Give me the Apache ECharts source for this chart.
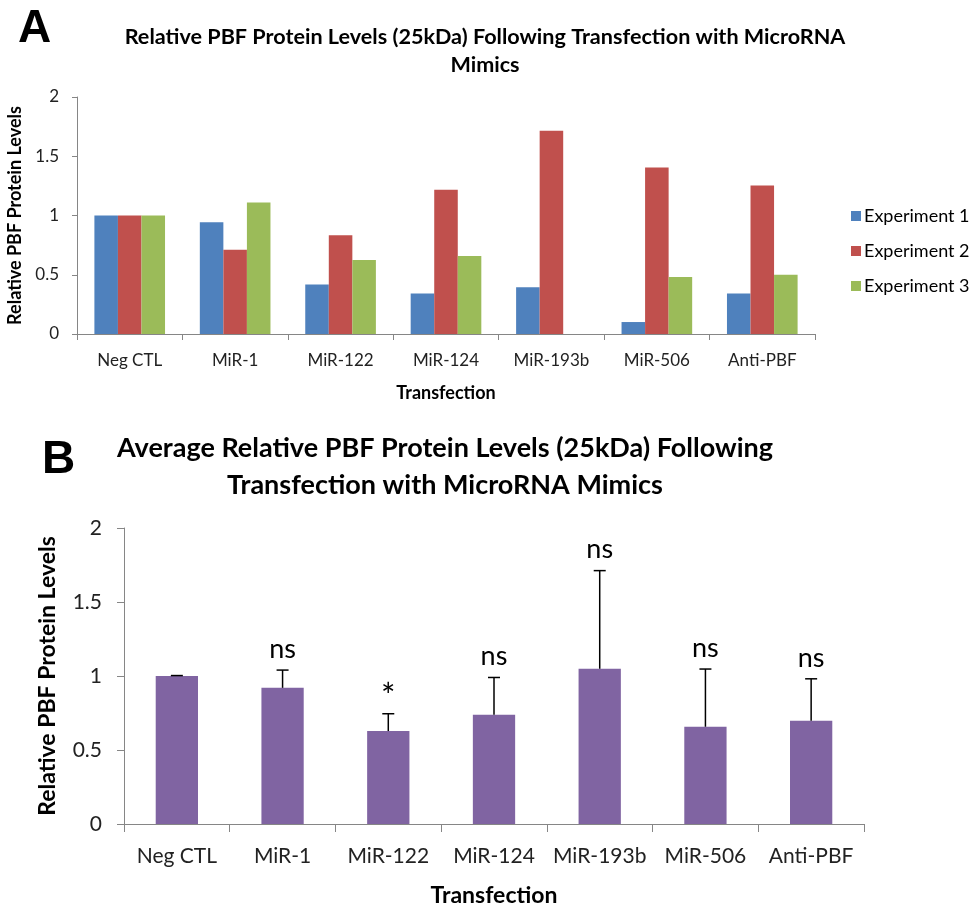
<!DOCTYPE html>
<html>
<head>
<meta charset="utf-8">
<script src="https://cdn.jsdelivr.net/npm/echarts@6/dist/echarts.min.js"></script>
<style>
  html, body { margin: 0; padding: 0; background: #fff; }
  #chart { width: 970px; height: 903px; }
</style>
</head>
<body>
<div id="chart"></div>
<script>
// categories shared by both panels
const categories = ['Neg CTL', 'MiR-1', 'MiR-122', 'MiR-124', 'MiR-193b', 'MiR-506', 'Anti-PBF'];

// panel A: individual experiments
const experimentNames = ['Experiment 1', 'Experiment 2', 'Experiment 3'];
const experiment1 = [1, 0.944, 0.417, 0.341, 0.394, 0.101, 0.341];
const experiment2 = [1, 0.712, 0.834, 1.217, 1.715, 1.405, 1.253];
const experiment3 = [1, 1.109, 0.625, 0.659, null, 0.482, 0.499];

// panel B: averages with upper error bars and significance marks
const averageLevels = [1.0, 0.92, 0.628, 0.738, 1.049, 0.657, 0.697];
const errorUpper = [0.003, 0.12, 0.117, 0.252, 0.663, 0.39, 0.284];
const sigLabels = ['', 'ns', '*', 'ns', 'ns', 'ns', 'ns'];

const yTicks = [0, 0.5, 1, 1.5, 2];

const FONT = 'Lato';
const axisGray = '#868686';
const colorsA = ['#4F81BD', '#C0504D', '#9BBB59'];
const purple = '#8064A2';

const chart = echarts.init(document.getElementById('chart'));

const errData = averageLevels.map((v, i) => [i, v, v + errorUpper[i], sigLabels[i]]);

const option = {
  animation: false,
  textStyle: { fontFamily: FONT },
  title: [
    {
      text: 'A', left: 13, top: 1,
      textStyle: { fontFamily: 'Liberation Sans', fontSize: 46, fontWeight: 'bold', color: '#000' }
    },
    {
      text: 'Relative PBF Protein Levels (25kDa) Following Transfection with MicroRNA\nMimics',
      left: 480, top: 18, textAlign: 'center',
      textStyle: { fontFamily: FONT, fontSize: 21.6, fontWeight: 'bold', color: '#000', lineHeight: 28 }
    },
    {
      text: 'B', left: 37, top: 432,
      textStyle: { fontFamily: 'Liberation Sans', fontSize: 46, fontWeight: 'bold', color: '#000' }
    },
    {
      text: 'Average Relative PBF Protein Levels (25kDa) Following\nTransfection with MicroRNA Mimics',
      left: 440, top: 425, textAlign: 'center',
      textStyle: { fontFamily: FONT, fontSize: 27, fontWeight: 'bold', color: '#000', lineHeight: 37 }
    }
  ],
  legend: {
    data: experimentNames,
    orient: 'vertical',
    left: 846, top: 202,
    itemWidth: 10, itemHeight: 10, itemGap: 17,
    icon: 'rect',
    textStyle: { fontFamily: FONT, fontSize: 18, color: '#000', padding: [0, 0, 0, -2] }
  },
  grid: [
    { left: 77, right: 155, top: 97, bottom: 569, outerBoundsMode: 'none' },
    { left: 124, right: 106, top: 528, bottom: 79, outerBoundsMode: 'none' }
  ],
  xAxis: [
    {
      type: 'category', gridIndex: 0, data: categories,
      name: 'Transfection', nameLocation: 'middle', nameGap: 50,
      nameTextStyle: { fontFamily: FONT, fontSize: 18, fontWeight: 'bold', color: '#000' },
      axisLine: { lineStyle: { color: axisGray, width: 1 } },
      axisTick: { show: true, length: 6, lineStyle: { color: axisGray } },
      axisLabel: { interval: 0, fontFamily: FONT, fontSize: 17, color: '#222', margin: 18 }
    },
    {
      type: 'category', gridIndex: 1, data: categories,
      name: 'Transfection', nameLocation: 'middle', nameGap: 60,
      nameTextStyle: { fontFamily: FONT, fontSize: 23, fontWeight: 'bold', color: '#000' },
      axisLine: { lineStyle: { color: axisGray, width: 1 } },
      axisTick: { show: true, length: 8, lineStyle: { color: axisGray } },
      axisLabel: { interval: 0, fontFamily: FONT, fontSize: 21, color: '#222', margin: 22 }
    }
  ],
  yAxis: [
    {
      type: 'value', gridIndex: 0, min: 0, max: 2, interval: 0.5,
      name: 'Relative PBF Protein Levels', nameLocation: 'middle', nameGap: 52,
      nameTextStyle: { fontFamily: FONT, fontSize: 18, fontWeight: 'bold', color: '#000' },
      axisLine: { show: true, lineStyle: { color: axisGray } },
      axisTick: { show: true, length: 5, lineStyle: { color: axisGray } },
      splitLine: { show: false },
      axisLabel: {
        fontFamily: FONT, fontSize: 17, color: '#222', margin: 18,
        formatter: v => yTicks.includes(v) ? String(v) : ''
      }
    },
    {
      type: 'value', gridIndex: 1, min: 0, max: 2, interval: 0.5,
      name: 'Relative PBF Protein Levels', nameLocation: 'middle', nameGap: 65,
      nameTextStyle: { fontFamily: FONT, fontSize: 23, fontWeight: 'bold', color: '#000' },
      axisLine: { show: true, lineStyle: { color: axisGray } },
      axisTick: { show: true, length: 7, lineStyle: { color: axisGray } },
      splitLine: { show: false },
      axisLabel: {
        fontFamily: FONT, fontSize: 21, color: '#222', margin: 22,
        formatter: v => yTicks.includes(v) ? String(v) : ''
      }
    }
  ],
  series: [
    {
      name: experimentNames[0], type: 'bar', xAxisIndex: 0, yAxisIndex: 0,
      data: experiment1, itemStyle: { color: colorsA[0] },
      barGap: '0%', barCategoryGap: '33%'
    },
    {
      name: experimentNames[1], type: 'bar', xAxisIndex: 0, yAxisIndex: 0,
      data: experiment2, itemStyle: { color: colorsA[1] },
      barGap: '0%', barCategoryGap: '33%'
    },
    {
      name: experimentNames[2], type: 'bar', xAxisIndex: 0, yAxisIndex: 0,
      data: experiment3, itemStyle: { color: colorsA[2] },
      barGap: '0%', barCategoryGap: '33%'
    },
    {
      name: 'Average', type: 'bar', xAxisIndex: 1, yAxisIndex: 1,
      data: averageLevels, itemStyle: { color: purple },
      barCategoryGap: '60%'
    },
    {
      name: 'Error', type: 'custom', xAxisIndex: 1, yAxisIndex: 1,
      data: errData,
      z: 5,
      renderItem: (params, api) => {
        const base = api.coord([api.value(0), api.value(1)]);
        const top = api.coord([api.value(0), api.value(2)]);
        const label = errData[params.dataIndex][3];
        const halfCap = 6;
        const children = [
          {
            type: 'line',
            shape: { x1: base[0], y1: base[1], x2: top[0], y2: top[1] },
            style: { stroke: '#000', lineWidth: 1.5 }
          },
          {
            type: 'line',
            shape: { x1: top[0] - halfCap, y1: top[1], x2: top[0] + halfCap, y2: top[1] },
            style: { stroke: '#000', lineWidth: 1.5 }
          }
        ];
        if (label) {
          const star = label === '*';
          children.push({
            type: 'text',
            style: {
              text: label, x: top[0], y: top[1] - (star ? 17 : 21),
              align: 'center', verticalAlign: 'middle',
              font: (star ? '34px ' : '27px ') + FONT, fill: '#000'
            }
          });
        }
        return { type: 'group', children };
      }
    }
  ]
};

chart.setOption(option);
</script>
</body>
</html>
